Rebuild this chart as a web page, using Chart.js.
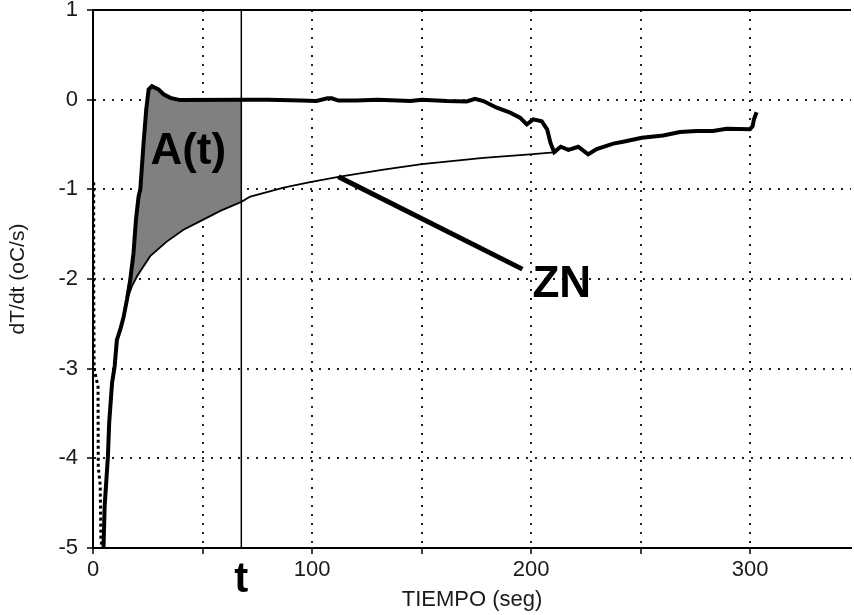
<!DOCTYPE html>
<html>
<head>
<meta charset="utf-8">
<title>dT/dt vs TIEMPO</title>
<script src="https://cdn.jsdelivr.net/npm/chart.js"></script>
<style>
  html, body { margin: 0; padding: 0; background: #fff; }
  canvas { display: block; }
</style>
</head>
<body>
<canvas id="chart" width="854" height="615"></canvas>
<script>
// x range of the plot (the right side is cut off in the original)
let X_MAX = 346;
let tMark = 67.7; // the "t" instant

// Initial fast drop of the cooling-rate curve
let initialT    = [0.3, 0.3, 0.5, 2.3, 2.4, 3.3, 3.6, 4.2];
let initialRate = [-0.92, -2.04, -3.0, -3.2, -4.1, -4.3, -4.9, -5.0];

// Measured dT/dt curve (thick)
let sampleT = [4.2, 4.8, 5.3, 6.8, 7.4, 8.7, 9.9, 10.9, 12.5, 14,
  15.5, 17, 18.5, 19.6, 20.8, 21.6, 23.1, 24.3, 25.4, 26.9,
  29.9, 32.2, 35.3, 39.8, 67.7, 80, 95, 102, 107, 109,
  112, 120, 130, 145, 150, 161.5, 170.6, 174.4, 178.2, 184.3,
  190.4, 194.9, 198, 201, 204.8, 207.3, 208.8, 210.5, 213.5, 217,
  221.5, 226, 229.9, 237.5, 242, 250.5, 260.3, 267.9, 275.5, 283,
  289.2, 299.9, 301.1, 301.7, 302.9];
let sampleRate = [-5.0, -5.0, -4.54, -3.98, -3.6, -3.16, -2.97, -2.68, -2.56, -2.42,
  -2.23, -2.01, -1.71, -1.34, -1.08, -1.0, -0.48, -0.11, 0.115, 0.15,
  0.115, 0.06, 0.02, -0.005, 0.0, 0.0, -0.01, -0.015, 0.015, 0.015,
  -0.01, -0.01, 0.0, -0.015, 0.0, -0.015, -0.02, 0.01, -0.015, -0.09,
  -0.145, -0.2, -0.276, -0.22, -0.24, -0.33, -0.48, -0.585, -0.525, -0.56,
  -0.525, -0.61, -0.55, -0.49, -0.47, -0.425, -0.4, -0.36, -0.35, -0.35,
  -0.325, -0.33, -0.295, -0.22, -0.14];

// Zero curve "ZN" (thin)
let znT    = [16.0, 17.8, 20.1, 26.1, 33.8, 41.3, 49, 58.1, 67.7, 71.8, 87, 99.1, 112, 132.6, 150.1, 178.2, 199.5, 211.7];
let znRate = [-2.2, -2.08, -1.97, -1.745, -1.58, -1.45, -1.355, -1.24, -1.14, -1.08, -0.98, -0.92, -0.86, -0.78, -0.72, -0.65, -0.61, -0.585];

// Pointer from the ZN label to the curve
let pointerT    = [112, 196];
let pointerRate = [-0.86, -1.89];

// Axis ticks
let xTicks = [0, 50, 100, 150, 200, 250, 300];
let xLabels = [0, 100, 200, 300];
let yTicks = [-5, -4, -3, -2, -1, 0, 1];

// Label anchors (data coordinates)
let areaLabel = { t: 43.5, rate: -0.58, text: "A(t)" };
let znLabel   = { t: 214, rate: -2.06, text: "ZN" };

let FONT = '"Liberation Sans", Arial, sans-serif';

function toPoints(ts, vs){
  return ts.map((t, i) => ({ x: t, y: vs[i] }));
}

// area A(t) between the measured curve and ZN, up to t
let areaTop = toPoints(sampleT, sampleRate).filter(p => p.x >= znT[0] - 1 && p.x <= tMark);
let areaBottom = toPoints(znT, znRate).filter(p => p.x <= tMark);

// Draws the frame top, the big labels and the "t" under the axis
let notesPlugin = {
  id: "notes",
  afterDatasetsDraw(chart){
    let ctx = chart.ctx;
    let area = chart.chartArea;
    let xs = chart.scales.x, ys = chart.scales.y;
    ctx.save();
    ctx.strokeStyle = "#000";
    ctx.lineWidth = 2;
    ctx.beginPath();
    ctx.moveTo(area.left, area.top);
    ctx.lineTo(area.right, area.top);
    ctx.stroke();

    ctx.fillStyle = "#000";
    ctx.textAlign = "center";
    ctx.textBaseline = "middle";
    ctx.font = "bold 44px " + FONT;
    ctx.fillText(areaLabel.text, xs.getPixelForValue(areaLabel.t), ys.getPixelForValue(areaLabel.rate));
    ctx.fillText(znLabel.text, xs.getPixelForValue(znLabel.t), ys.getPixelForValue(znLabel.rate));
    ctx.font = "bold 42px " + FONT;
    ctx.fillText("t", xs.getPixelForValue(tMark), area.bottom + 32);
    ctx.restore();
  }
};

let lineDefaults = { pointRadius: 0, tension: 0, fill: false, borderColor: "#000" };

new Chart(document.getElementById("chart").getContext("2d"), {
  type: "line",
  data: {
    datasets: [
      Object.assign({}, lineDefaults, { label: "A(t)", data: areaTop, borderWidth: 0, backgroundColor: "#808080", fill: 1, order: 10 }),
      Object.assign({}, lineDefaults, { label: "ZN base", data: areaBottom, borderWidth: 0, order: 9 }),
      Object.assign({}, lineDefaults, { label: "ZN", data: toPoints(znT, znRate), borderWidth: 1.8, order: 3 }),
      Object.assign({}, lineDefaults, { label: "drop", data: toPoints(initialT, initialRate), borderWidth: 3, borderDash: [3, 3], order: 2 }),
      Object.assign({}, lineDefaults, { label: "dT/dt", data: toPoints(sampleT, sampleRate), borderWidth: 4, order: 1 }),
      Object.assign({}, lineDefaults, { label: "t", data: [{ x: tMark, y: yTicks[0] }, { x: tMark, y: yTicks[yTicks.length - 1] }], borderWidth: 1.5, order: 4 }),
      Object.assign({}, lineDefaults, { label: "pointer", data: toPoints(pointerT, pointerRate), borderWidth: 5, order: 0 })
    ]
  },
  options: {
    responsive: false,
    animation: false,
    layout: { padding: { top: 10, right: 3, left: 0, bottom: 0 } },
    plugins: {
      legend: { display: false },
      tooltip: { enabled: false }
    },
    scales: {
      x: {
        type: "linear",
        min: 0,
        max: X_MAX,
        afterBuildTicks: (scale) => { scale.ticks = xTicks.map(v => ({ value: v })); },
        afterFit: (scale) => { scale.height = 67; },
        ticks: {
          autoSkip: false,
          maxRotation: 0,
          padding: 3,
          color: "#1a1a1a",
          font: { family: FONT, size: 22 },
          callback: (v) => xLabels.includes(v) ? String(v) : ""
        },
        grid: {
          color: "#222",
          lineWidth: 2,
          tickColor: "#000",
          tickWidth: 1.5,
          tickLength: 6,
          tickBorderDash: []
        },
        border: { display: true, color: "#000", width: 2, dash: [2, 7] },
        title: {
          display: true,
          text: "TIEMPO (seg)",
          color: "#1a1a1a",
          font: { family: FONT, size: 22 },
          padding: { top: 0, bottom: 2 }
        }
      },
      y: {
        type: "linear",
        min: yTicks[0],
        max: yTicks[yTicks.length - 1],
        afterBuildTicks: (scale) => { scale.ticks = yTicks.map(v => ({ value: v })); },
        afterFit: (scale) => { scale.width = 93; scale.paddingTop = 0; scale.paddingBottom = 0; },
        ticks: {
          padding: 9,
          color: "#1a1a1a",
          font: { family: FONT, size: 22 }
        },
        grid: {
          color: "#222",
          lineWidth: 2,
          tickColor: "#000",
          tickWidth: 1.5,
          tickLength: 6,
          tickBorderDash: []
        },
        border: { display: true, color: "#000", width: 2, dash: [2, 7] },
        title: {
          display: true,
          text: "dT/dt (oC/s)",
          color: "#1a1a1a",
          font: { family: FONT, size: 21 },
          padding: { top: 6, bottom: 0 }
        }
      }
    }
  },
  plugins: [notesPlugin]
});
</script>
</body>
</html>
